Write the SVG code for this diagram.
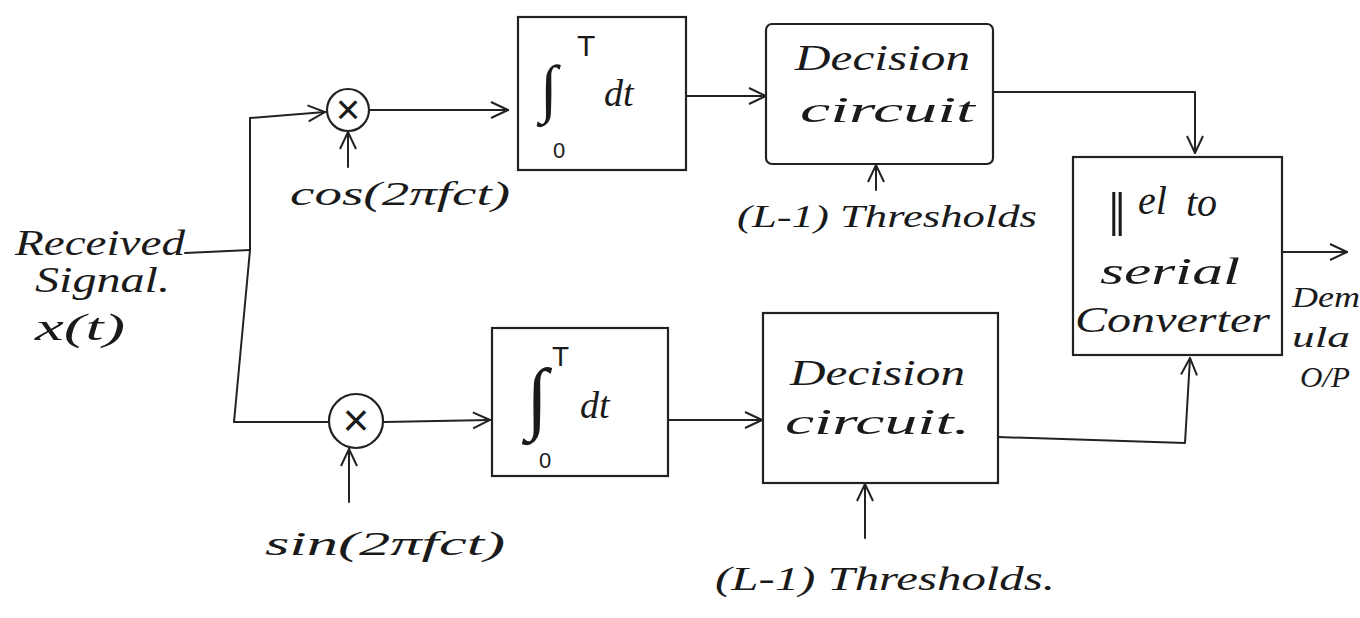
<svg xmlns="http://www.w3.org/2000/svg" width="1360" height="618" viewBox="0 0 1360 618">
<defs>
<marker id="arr" viewBox="0 0 20 20" refX="19" refY="10" markerWidth="20" markerHeight="20" markerUnits="userSpaceOnUse" orient="auto">
<path d="M2,2 L19,10 L2,18" fill="none" stroke="#222" stroke-width="2"/>
</marker>
</defs>
<style>
.ln{fill:none;stroke:#222;stroke-width:2;stroke-linecap:round;stroke-linejoin:round}
.bx{fill:none;stroke:#222;stroke-width:2.2}
.t{font-family:"Liberation Serif","DejaVu Serif",serif;font-style:italic;fill:#1a1a1a}
.s{font-family:"Liberation Sans","DejaVu Sans",sans-serif;fill:#1a1a1a}
</style>
<rect width="1360" height="618" fill="#fff"/>

<g id="connectors">
<path class="ln" d="M185,253 L250,250"/>
<path class="ln" d="M250,118 L250,250 L234,422"/>
<path class="ln" d="M250,118 L325,112" marker-end="url(#arr)"/>
<path class="ln" d="M234,422 L328,422"/>
<path class="ln" d="M369,110 L508,110" marker-end="url(#arr)"/>
<path class="ln" d="M348,167 L348,132" marker-end="url(#arr)"/>
<path class="ln" d="M384,422 L490,420" marker-end="url(#arr)"/>
<path class="ln" d="M349,502 L349,449" marker-end="url(#arr)"/>
<path class="ln" d="M686,96 L766,96" marker-end="url(#arr)"/>
<path class="ln" d="M668,420 L762,420" marker-end="url(#arr)"/>
<path class="ln" d="M876,190 L876,165" marker-end="url(#arr)"/>
<path class="ln" d="M865,538 L865,484" marker-end="url(#arr)"/>
<path class="ln" d="M993,92 L1195,92 L1195,153" marker-end="url(#arr)"/>
<path class="ln" d="M998,437 L1185,443 L1190,358" marker-end="url(#arr)"/>
<path class="ln" d="M1282,252 L1347,252" marker-end="url(#arr)"/>
</g>

<g id="input">
<text class="t" x="15" y="255" font-size="36" textLength="170" lengthAdjust="spacingAndGlyphs">Received</text>
<text class="t" x="35" y="292" font-size="36" textLength="135" lengthAdjust="spacingAndGlyphs">Signal.</text>
<text class="t" x="35" y="340" font-size="38" textLength="90" lengthAdjust="spacingAndGlyphs">x(t)</text>
</g>

<g id="mixer-top">
<circle cx="348" cy="110" r="21" class="bx"/>
<text class="s" x="348" y="124" font-size="42" text-anchor="middle">×</text>
<text class="t" x="290" y="205" font-size="34" textLength="220" lengthAdjust="spacingAndGlyphs">cos(2πfct)</text>
</g>

<g id="mixer-bottom">
<circle cx="356" cy="421" r="27" class="bx"/>
<text class="s" x="356" y="436" font-size="46" text-anchor="middle">×</text>
<text class="t" x="265" y="555" font-size="34" textLength="240" lengthAdjust="spacingAndGlyphs">sin(2πfct)</text>
</g>

<g id="integrator-top">
<rect x="518" y="17" width="168" height="153" class="bx"/>
<text class="t" x="540" y="110" font-size="64">∫</text>
<text class="s" x="577" y="56" font-size="30">T</text>
<text class="s" x="553" y="158" font-size="22">0</text>
<text class="t" x="604" y="106" font-size="38">dt</text>
</g>

<g id="integrator-bottom">
<rect x="492" y="328" width="176" height="148" class="bx"/>
<text class="t" x="526" y="424" font-size="80">∫</text>
<text class="s" x="552" y="366" font-size="28">T</text>
<text class="s" x="539" y="468" font-size="22">0</text>
<text class="t" x="580" y="418" font-size="38">dt</text>
</g>

<g id="decision-top">
<rect x="766" y="24" width="227" height="140" rx="6" class="bx"/>
<text class="t" x="795" y="70" font-size="36" textLength="175" lengthAdjust="spacingAndGlyphs">Decision</text>
<text class="t" x="800" y="122" font-size="36" textLength="175" lengthAdjust="spacingAndGlyphs">circuit</text>
<text class="t" x="737" y="227" font-size="32" textLength="300" lengthAdjust="spacingAndGlyphs">(L-1) Thresholds</text>
</g>

<g id="decision-bottom">
<rect x="763" y="313" width="235" height="170" class="bx"/>
<text class="t" x="790" y="385" font-size="36" textLength="175" lengthAdjust="spacingAndGlyphs">Decision</text>
<text class="t" x="785" y="434" font-size="36" textLength="185" lengthAdjust="spacingAndGlyphs">circuit.</text>
<text class="t" x="715" y="590" font-size="34" textLength="340" lengthAdjust="spacingAndGlyphs">(L-1) Thresholds.</text>
</g>

<g id="converter">
<rect x="1073" y="157" width="209" height="198" class="bx"/>
<text class="t" font-size="40"><tspan x="1108" y="236" font-size="64">‖</tspan><tspan x="1138" y="214">el</tspan><tspan x="1186" y="216">to</tspan></text>
<text class="t" x="1100" y="284" font-size="38" textLength="140" lengthAdjust="spacingAndGlyphs">serial</text>
<text class="t" x="1075" y="332" font-size="36" textLength="195" lengthAdjust="spacingAndGlyphs">Converter</text>
</g>

<g id="output">
<text class="t" x="1292" y="307" font-size="30" textLength="68" lengthAdjust="spacingAndGlyphs">Dem</text>
<text class="t" x="1292" y="347" font-size="30" textLength="58" lengthAdjust="spacingAndGlyphs">ula</text>
<text class="t" x="1300" y="387" font-size="30" textLength="50" lengthAdjust="spacingAndGlyphs">O/P</text>
</g>
</svg>
